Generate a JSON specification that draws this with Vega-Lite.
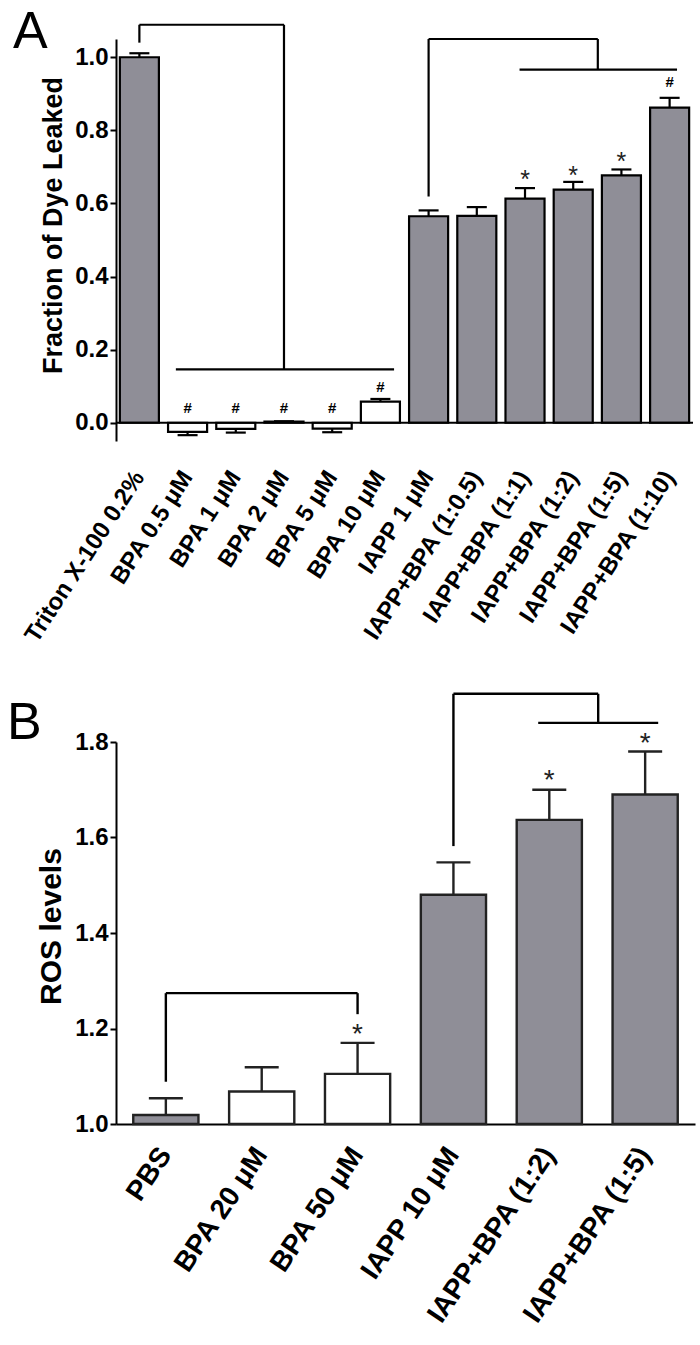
{
  "$schema": "https://vega.github.io/schema/vega-lite/v6.json",
  "padding": {"left": 7, "top": 6, "right": 5, "bottom": 0},
  "config": {
    "view": {"stroke": null},
    "font": "Liberation Sans",
    "concat": {"spacing": 45},
    "axis": {
      "domainColor": "black", "domainWidth": 2, "tickColor": "black", "tickWidth": 2, "tickSize": 6,
      "labelColor": "black", "labelFont": "Liberation Sans", "labelFontWeight": "bold",
      "titleColor": "black", "titleFont": "Liberation Sans", "titleFontWeight": "bold", "grid": false, "labelLimit": 500
    }
  },
  "datasets": {
    "leak": [
      {"condition": "Triton X-100 0.2%", "kind": "control", "value": 1.0, "errEnd": 1.011, "sig": null, "annY": null},
      {"condition": "BPA 0.5 μM", "kind": "BPA", "value": -0.025, "errEnd": -0.034, "sig": "#", "annY": 0.04},
      {"condition": "BPA 1 μM", "kind": "BPA", "value": -0.017, "errEnd": -0.027, "sig": "#", "annY": 0.04},
      {"condition": "BPA 2 μM", "kind": "BPA", "value": 0.003, "errEnd": 0.004, "sig": "#", "annY": 0.04},
      {"condition": "BPA 5 μM", "kind": "BPA", "value": -0.016, "errEnd": -0.026, "sig": "#", "annY": 0.04},
      {"condition": "BPA 10 μM", "kind": "BPA", "value": 0.058, "errEnd": 0.065, "sig": "#", "annY": 0.0975},
      {"condition": "IAPP 1 μM", "kind": "IAPP", "value": 0.565, "errEnd": 0.581, "sig": null, "annY": null},
      {"condition": "IAPP+BPA (1:0.5)", "kind": "IAPP", "value": 0.566, "errEnd": 0.59, "sig": null, "annY": null},
      {"condition": "IAPP+BPA (1:1)", "kind": "IAPP", "value": 0.613, "errEnd": 0.642, "sig": "*", "annY": 0.677},
      {"condition": "IAPP+BPA (1:2)", "kind": "IAPP", "value": 0.638, "errEnd": 0.659, "sig": "*", "annY": 0.69},
      {"condition": "IAPP+BPA (1:5)", "kind": "IAPP", "value": 0.677, "errEnd": 0.693, "sig": "*", "annY": 0.727},
      {"condition": "IAPP+BPA (1:10)", "kind": "IAPP", "value": 0.862, "errEnd": 0.889, "sig": "#", "annY": 0.931}
    ],
    "bracketsA": [
      {"part": "vc", "at": "Triton X-100 0.2%", "lo": 1.04, "hi": 1.089},
      {"part": "vc", "at": "BPA 2 μM", "lo": 0.146, "hi": 1.089},
      {"part": "vc", "at": "IAPP 1 μM", "lo": 0.619, "hi": 1.05},
      {"part": "vd", "at": "IAPP+BPA (1:2)", "lo": 0.966, "hi": 1.05},
      {"part": "hc", "from": "Triton X-100 0.2%", "to": "BPA 2 μM", "lo": 1.089},
      {"part": "hd", "from": "IAPP 1 μM", "to": "IAPP+BPA (1:2)", "lo": 1.05},
      {"part": "hs1", "from": "BPA 0.5 μM", "to": "BPA 10 μM", "lo": 0.146},
      {"part": "hs2", "from": "IAPP+BPA (1:1)", "to": "IAPP+BPA (1:10)", "lo": 0.966}
    ],
    "ros": [
      {"condition": "PBS", "kind": "control", "value": 1.019, "errEnd": 1.054, "sig": null, "annY": null},
      {"condition": "BPA 20 μM", "kind": "BPA", "value": 1.068, "errEnd": 1.119, "sig": null, "annY": null},
      {"condition": "BPA 50 μM", "kind": "BPA", "value": 1.105, "errEnd": 1.17, "sig": "*", "annY": 1.2},
      {"condition": "IAPP 10 μM", "kind": "IAPP", "value": 1.48, "errEnd": 1.548, "sig": null, "annY": null},
      {"condition": "IAPP+BPA (1:2)", "kind": "IAPP", "value": 1.637, "errEnd": 1.7, "sig": "*", "annY": 1.731},
      {"condition": "IAPP+BPA (1:5)", "kind": "IAPP", "value": 1.69, "errEnd": 1.78, "sig": "*", "annY": 1.809}
    ],
    "bracketsB": [
      {"part": "vc", "at": "PBS", "lo": 1.0885, "hi": 1.274},
      {"part": "vc", "at": "BPA 50 μM", "lo": 1.23, "hi": 1.274},
      {"part": "vc", "at": "IAPP 10 μM", "lo": 1.582, "hi": 1.901},
      {"part": "vd", "at": "IAPP+BPA (1:2)", "lo": 1.84, "hi": 1.901},
      {"part": "hc", "from": "PBS", "to": "BPA 50 μM", "lo": 1.274},
      {"part": "hd", "from": "IAPP 10 μM", "to": "IAPP+BPA (1:2)", "lo": 1.901},
      {"part": "hs", "from": "IAPP+BPA (1:2)", "to": "IAPP+BPA (1:5)", "lo": 1.84}
    ]
  },
  "vconcat": [
    {
      "width": 577,
      "height": 402,
      "title": {"text": "A", "fontSize": 52, "fontWeight": "normal", "font": "Liberation Sans", "color": "black", "anchor": "start", "frame": "group", "dx": -103, "offset": -35.5},
      "layer": [
        {
          "data": {"name": "leak"},
          "mark": {"type": "bar", "stroke": "black", "strokeWidth": 2.2},
          "encoding": {
            "x": {"field": "condition", "type": "nominal", "sort": null, "title": null,
              "scale": {"domain": ["Triton X-100 0.2%", "BPA 0.5 μM", "BPA 1 μM", "BPA 2 μM", "BPA 5 μM", "BPA 10 μM", "IAPP 1 μM", "IAPP+BPA (1:0.5)", "IAPP+BPA (1:1)", "IAPP+BPA (1:2)", "IAPP+BPA (1:5)", "IAPP+BPA (1:10)"], "paddingInner": 0.19, "paddingOuter": 0.08},
              "axis": {"title": null, "domain": false, "ticks": false, "labelAngle": -57, "labelAlign": "right", "labelBaseline": "middle", "labelFontSize": 24, "labelPadding": 32}},
            "y": {"field": "value", "type": "quantitative", "title": "Fraction of Dye Leaked",
              "scale": {"domain": [-0.05, 1.05], "nice": false, "zero": false},
              "axis": {"title": "Fraction of Dye Leaked", "values": [0, 0.2, 0.4, 0.6, 0.8, 1.0], "format": ".1f", "labelFontSize": 24, "labelPadding": 2, "titleFontSize": 27, "titlePadding": 7, "titleY": 186}},
            "y2": {"datum": 0},
            "fill": {"field": "kind", "type": "nominal", "scale": {"domain": ["control", "BPA", "IAPP"], "range": ["#8f8e97", "#ffffff", "#8f8e97"]}, "legend": null}
          }
        },
        {
          "data": {"values": [{}]},
          "mark": {"type": "rule", "color": "black", "strokeWidth": 2},
          "encoding": {"y": {"datum": 0, "type": "quantitative", "title": "Fraction of Dye Leaked"}}
        },
        {
          "data": {"name": "leak"},
          "mark": {"type": "rule", "color": "black", "strokeWidth": 2.2},
          "encoding": {
            "x": {"field": "condition", "type": "nominal", "sort": null, "title": null},
            "y": {"field": "value", "type": "quantitative", "title": "Fraction of Dye Leaked"},
            "y2": {"field": "errEnd"}
          }
        },
        {
          "data": {"name": "leak"},
          "mark": {"type": "tick", "color": "black", "thickness": 2.2, "size": 20, "opacity": 1, "orient": "horizontal"},
          "encoding": {
            "x": {"field": "condition", "type": "nominal", "sort": null, "title": null},
            "y": {"field": "errEnd", "type": "quantitative", "title": "Fraction of Dye Leaked"}
          }
        },
        {
          "data": {"name": "bracketsA"},
          "transform": [{"filter": "datum.part === 'vc'"}],
          "mark": {"type": "rule", "color": "black", "strokeWidth": 2.2},
          "encoding": {
            "x": {"field": "at", "type": "nominal", "sort": null, "title": null},
            "y": {"field": "lo", "type": "quantitative", "title": "Fraction of Dye Leaked"},
            "y2": {"field": "hi"}
          }
        },
        {
          "data": {"name": "bracketsA"},
          "transform": [{"filter": "datum.part === 'vd'"}],
          "mark": {"type": "rule", "color": "black", "strokeWidth": 2.2},
          "encoding": {
            "x": {"field": "at", "type": "nominal", "sort": null, "title": null, "bandPosition": 1.13},
            "y": {"field": "lo", "type": "quantitative", "title": "Fraction of Dye Leaked"},
            "y2": {"field": "hi"}
          }
        },
        {
          "data": {"name": "bracketsA"},
          "transform": [{"filter": "datum.part === 'hc'"}],
          "mark": {"type": "rule", "color": "black", "strokeWidth": 2.2},
          "encoding": {
            "x": {"field": "from", "type": "nominal", "sort": null, "title": null},
            "x2": {"field": "to"},
            "y": {"field": "lo", "type": "quantitative", "title": "Fraction of Dye Leaked"}
          }
        },
        {
          "data": {"name": "bracketsA"},
          "transform": [{"filter": "datum.part === 'hd'"}],
          "mark": {"type": "rule", "color": "black", "strokeWidth": 2.2},
          "encoding": {
            "x": {"field": "from", "type": "nominal", "sort": null, "title": null, "bandPosition": 0.5},
            "x2": {"field": "to", "bandPosition": 1.13},
            "y": {"field": "lo", "type": "quantitative", "title": "Fraction of Dye Leaked"}
          }
        },
        {
          "data": {"name": "bracketsA"},
          "transform": [{"filter": "datum.part === 'hs1'"}],
          "mark": {"type": "rule", "color": "black", "strokeWidth": 2.2},
          "encoding": {
            "x": {"field": "from", "type": "nominal", "sort": null, "title": null, "bandPosition": 0.2},
            "x2": {"field": "to", "bandPosition": 0.85},
            "y": {"field": "lo", "type": "quantitative", "title": "Fraction of Dye Leaked"}
          }
        },
        {
          "data": {"name": "bracketsA"},
          "transform": [{"filter": "datum.part === 'hs2'"}],
          "mark": {"type": "rule", "color": "black", "strokeWidth": 2.2},
          "encoding": {
            "x": {"field": "from", "type": "nominal", "sort": null, "title": null, "bandPosition": 0.36},
            "x2": {"field": "to", "bandPosition": 0.69},
            "y": {"field": "lo", "type": "quantitative", "title": "Fraction of Dye Leaked"}
          }
        },
        {
          "data": {"name": "leak"},
          "transform": [{"filter": "datum.sig === '#'"}],
          "mark": {"type": "text", "color": "black", "font": "Liberation Sans", "fontWeight": "bold", "fontSize": 15, "baseline": "middle"},
          "encoding": {
            "x": {"field": "condition", "type": "nominal", "sort": null, "title": null},
            "y": {"field": "annY", "type": "quantitative", "title": "Fraction of Dye Leaked"},
            "text": {"field": "sig"}
          }
        },
        {
          "data": {"name": "leak"},
          "transform": [{"filter": "datum.sig === '*'"}],
          "mark": {"type": "text", "color": "#222222", "font": "Liberation Sans", "fontSize": 25, "baseline": "middle", "dy": 5},
          "encoding": {
            "x": {"field": "condition", "type": "nominal", "sort": null, "title": null},
            "y": {"field": "annY", "type": "quantitative", "title": "Fraction of Dye Leaked"},
            "text": {"field": "sig"}
          }
        }
      ]
    },
    {
      "width": 579,
      "height": 382,
      "title": {"text": "B", "fontSize": 52, "fontWeight": "normal", "font": "Liberation Sans", "color": "black", "anchor": "start", "frame": "group", "dx": -109, "offset": -57},
      "layer": [
        {
          "data": {"name": "ros"},
          "mark": {"type": "bar", "stroke": "#222222", "strokeWidth": 2.4},
          "encoding": {
            "x": {"field": "condition", "type": "nominal", "sort": null, "title": null,
              "scale": {"domain": ["PBS", "BPA 20 μM", "BPA 50 μM", "IAPP 10 μM", "IAPP+BPA (1:2)", "IAPP+BPA (1:5)"], "paddingInner": 0.32, "paddingOuter": 0.18},
              "axis": {"title": null, "domain": true, "ticks": false, "labelAngle": -56, "labelAlign": "right", "labelBaseline": "middle", "labelFontSize": 28, "labelPadding": 26}},
            "y": {"field": "value", "type": "quantitative", "title": "ROS levels",
              "scale": {"domain": [1.0, 1.8], "nice": false, "zero": false},
              "axis": {"title": "ROS levels", "values": [1.0, 1.2, 1.4, 1.6, 1.8], "format": ".1f", "labelFontSize": 24, "labelPadding": 2, "titleFontSize": 30, "titlePadding": 8, "titleY": 184}},
            "y2": {"datum": 1.0},
            "fill": {"field": "kind", "type": "nominal", "scale": {"domain": ["control", "BPA", "IAPP"], "range": ["#8f8e97", "#ffffff", "#8f8e97"]}, "legend": null}
          }
        },
        {
          "data": {"name": "ros"},
          "mark": {"type": "rule", "color": "#222222", "strokeWidth": 2.4},
          "encoding": {
            "x": {"field": "condition", "type": "nominal", "sort": null, "title": null},
            "y": {"field": "value", "type": "quantitative", "title": "ROS levels"},
            "y2": {"field": "errEnd"}
          }
        },
        {
          "data": {"name": "ros"},
          "mark": {"type": "tick", "color": "#222222", "thickness": 2.4, "size": 34, "opacity": 1, "orient": "horizontal"},
          "encoding": {
            "x": {"field": "condition", "type": "nominal", "sort": null, "title": null},
            "y": {"field": "errEnd", "type": "quantitative", "title": "ROS levels"}
          }
        },
        {
          "data": {"name": "bracketsB"},
          "transform": [{"filter": "datum.part === 'vc'"}],
          "mark": {"type": "rule", "color": "black", "strokeWidth": 2.4},
          "encoding": {
            "x": {"field": "at", "type": "nominal", "sort": null, "title": null},
            "y": {"field": "lo", "type": "quantitative", "title": "ROS levels"},
            "y2": {"field": "hi"}
          }
        },
        {
          "data": {"name": "bracketsB"},
          "transform": [{"filter": "datum.part === 'vd'"}],
          "mark": {"type": "rule", "color": "black", "strokeWidth": 2.4},
          "encoding": {
            "x": {"field": "at", "type": "nominal", "sort": null, "title": null, "bandPosition": 1.25},
            "y": {"field": "lo", "type": "quantitative", "title": "ROS levels"},
            "y2": {"field": "hi"}
          }
        },
        {
          "data": {"name": "bracketsB"},
          "transform": [{"filter": "datum.part === 'hc'"}],
          "mark": {"type": "rule", "color": "black", "strokeWidth": 2.4},
          "encoding": {
            "x": {"field": "from", "type": "nominal", "sort": null, "title": null},
            "x2": {"field": "to"},
            "y": {"field": "lo", "type": "quantitative", "title": "ROS levels"}
          }
        },
        {
          "data": {"name": "bracketsB"},
          "transform": [{"filter": "datum.part === 'hd'"}],
          "mark": {"type": "rule", "color": "black", "strokeWidth": 2.4},
          "encoding": {
            "x": {"field": "from", "type": "nominal", "sort": null, "title": null, "bandPosition": 0.5},
            "x2": {"field": "to", "bandPosition": 1.25},
            "y": {"field": "lo", "type": "quantitative", "title": "ROS levels"}
          }
        },
        {
          "data": {"name": "bracketsB"},
          "transform": [{"filter": "datum.part === 'hs'"}],
          "mark": {"type": "rule", "color": "black", "strokeWidth": 2.4},
          "encoding": {
            "x": {"field": "from", "type": "nominal", "sort": null, "title": null, "bandPosition": 0.33},
            "x2": {"field": "to", "bandPosition": 0.7},
            "y": {"field": "lo", "type": "quantitative", "title": "ROS levels"}
          }
        },
        {
          "data": {"name": "ros"},
          "transform": [{"filter": "datum.sig === '*'"}],
          "mark": {"type": "text", "color": "#222222", "font": "Liberation Sans", "fontSize": 28, "baseline": "middle", "dy": 6},
          "encoding": {
            "x": {"field": "condition", "type": "nominal", "sort": null, "title": null},
            "y": {"field": "annY", "type": "quantitative", "title": "ROS levels"},
            "text": {"field": "sig"}
          }
        }
      ]
    }
  ]
}
